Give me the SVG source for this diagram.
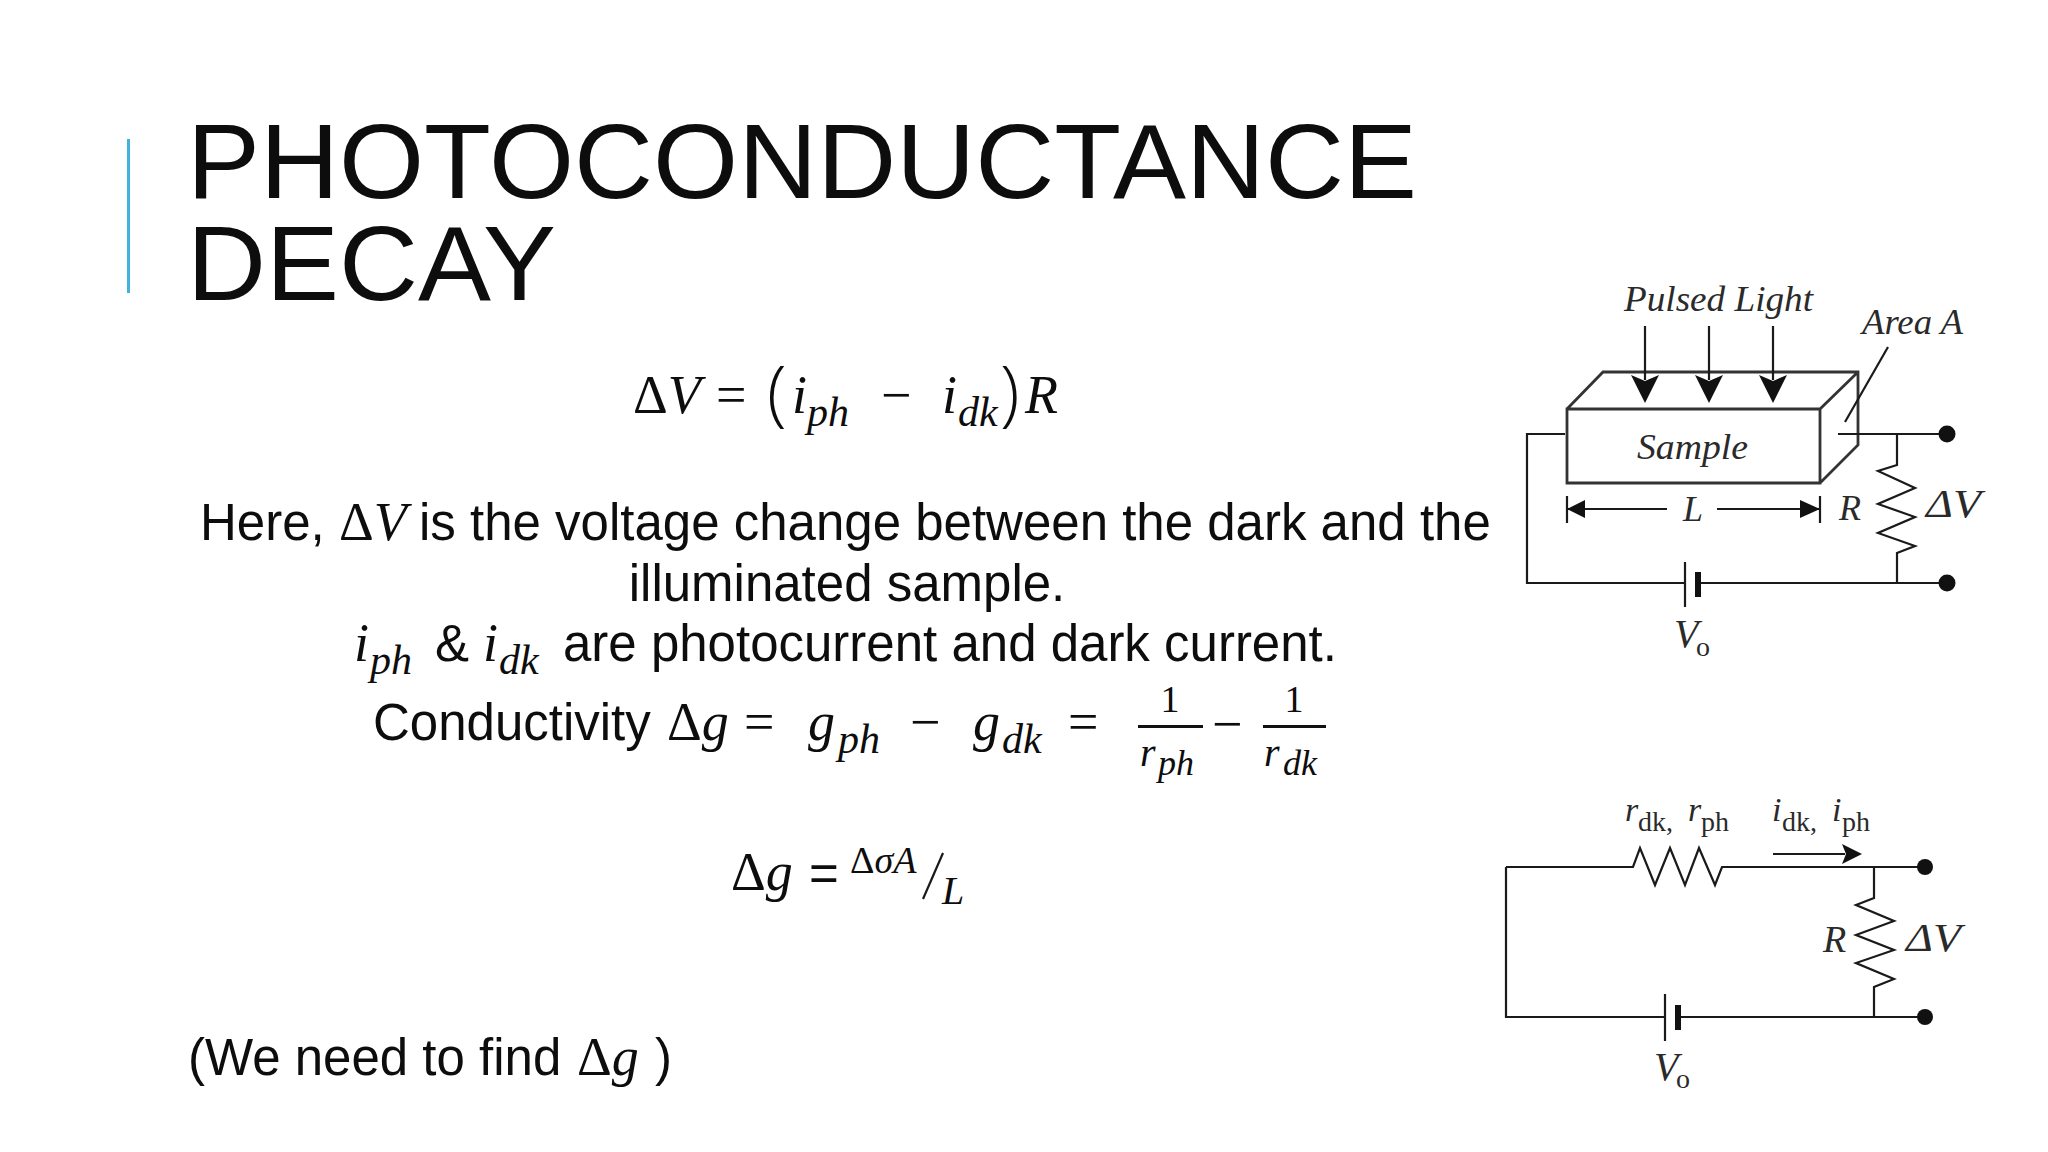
<svg xmlns="http://www.w3.org/2000/svg" width="2048" height="1152" viewBox="0 0 2048 1152">
<style>
.t{font-family:"Liberation Sans",Arial,sans-serif;fill:#0d0d0d}
.m{font-family:"Liberation Serif","Times New Roman",serif;fill:#0d0d0d}
.p{font-family:"Open Sans","Liberation Sans",sans-serif;font-weight:300;fill:#0d0d0d}
.i{font-style:italic}
.w{fill:none;stroke:#1a1a1a;stroke-width:2.2}
.b{fill:none;stroke:#333;stroke-width:2.8}
.k{fill:#111}
.c{font-family:"Liberation Serif","Times New Roman",serif;fill:#2a2a2a}
</style>
<rect width="2048" height="1152" fill="#fff"/>
<rect x="127" y="139" width="3" height="154" fill="#41b3dc"/>
<g id="title" class="t" font-size="106">
<text x="187" y="198" textLength="1230" lengthAdjust="spacingAndGlyphs">PHOTOCONDUCTANCE</text>
<text x="187" y="300" textLength="369" lengthAdjust="spacingAndGlyphs">DECAY</text>
</g>
<g id="equation-dv" font-size="54">
<text class="m" x="633" y="413">Δ<tspan class="i">V</tspan></text>
<text class="m" x="716" y="413">=</text>
<text class="p" x="767" y="418" font-size="72">(</text>
<text class="m i" x="792" y="413">i</text><text class="m i" x="807" y="426" font-size="42">ph</text>
<text class="m" x="881" y="413">−</text>
<text class="m i" x="942" y="413">i</text><text class="m i" x="958" y="426" font-size="42">dk</text>
<text class="p" x="1000" y="418" font-size="72">)</text>
<text class="m i" x="1025" y="413">R</text>
</g>
<g id="body" font-size="51">
<text class="t" x="200" y="540">Here,</text><text class="m" x="339" y="540" font-size="54">Δ<tspan class="i">V</tspan></text>
<text class="t" x="419" y="540">is the voltage change between the dark and the</text>
<text class="t" x="847" y="601" text-anchor="middle">illuminated sample.</text>
<text class="m i" x="354" y="661" font-size="54">i</text><text class="m i" x="370" y="674" font-size="42">ph</text>
<text class="t" x="435" y="661">&amp;</text>
<text class="m i" x="483" y="661" font-size="54">i</text><text class="m i" x="499" y="674" font-size="42">dk</text>
<text class="t" x="563" y="661">are photocurrent and dark current.</text>
</g>
<g id="equation-conductivity" font-size="54">
<text class="t" x="373" y="740" font-size="51">Conductivity</text>
<text class="m" x="667" y="740">Δ<tspan class="i">g</tspan></text>
<text class="m" x="744" y="740">=</text>
<text class="m i" x="808" y="740">g</text><text class="m i" x="838" y="753" font-size="42">ph</text>
<text class="m" x="910" y="740">−</text>
<text class="m i" x="973" y="740">g</text><text class="m i" x="1002" y="753" font-size="42">dk</text>
<text class="m" x="1068" y="740">=</text>
<rect class="k" x="1138" y="725" width="65" height="3"/>
<text class="m" x="1170" y="712" text-anchor="middle" font-size="38">1</text>
<text class="m i" x="1140" y="766" font-size="40">r</text><text class="m i" x="1158" y="775" font-size="36">ph</text>
<text class="m" x="1212" y="742" font-size="54">−</text>
<rect class="k" x="1263" y="725" width="63" height="3"/>
<text class="m" x="1294" y="712" text-anchor="middle" font-size="38">1</text>
<text class="m i" x="1264" y="766" font-size="40">r</text><text class="m i" x="1283" y="775" font-size="36">dk</text>
</g>
<g id="equation-dg" font-size="54">
<text class="m" x="731" y="890">Δ<tspan class="i">g</tspan></text>
<text class="t" x="809" y="891" font-size="51">=</text>
<text class="m" x="850" y="873" font-size="38">Δ<tspan class="i">σA</tspan></text>
<line class="w" x1="923" y1="899" x2="943" y2="853" stroke-width="2.5"/>
<text class="m i" x="942" y="904" font-size="40">L</text>
</g>
<g id="note" font-size="51">
<text class="t" x="188" y="1075">(We need to find</text>
<text class="m" x="577" y="1075" font-size="54">Δ<tspan class="i">g</tspan></text>
<text class="t" x="655" y="1075">)</text>
</g>
<g id="connectors-sample">
<path class="b" d="M1567 409H1820V483H1567ZM1567 409L1603 372H1858V445L1820 483M1820 409L1858 372"/>
<path class="w" d="M1645 326V380M1709 326V380M1773 326V380"/>
<path class="k" d="M1631 375L1645 403L1659 375L1645 381ZM1695 375L1709 403L1723 375L1709 381ZM1759 375L1773 403L1787 375L1773 381Z"/>
<path class="w" d="M1888 347L1845 422"/>
<path class="w" d="M1838 434H1947M1565 434H1527V583H1685M1685 562V607M1698 583H1947"/>
<rect class="k" x="1695" y="572" width="6" height="25"/>
<path class="w" d="M1897 434V465L1878 471L1915 488L1878 504L1915 517L1878 533L1915 546L1897 553V583"/>
<circle class="k" cx="1947" cy="434" r="8.5"/><circle class="k" cx="1947" cy="583" r="8.5"/>
<path class="w" d="M1567 496V523M1820 496V523M1567 509H1667M1717 509H1820"/>
<path class="k" d="M1567 509L1585 500V518ZM1820 509L1800 500V518Z"/>
</g>
<g id="labels-sample" font-size="36" class="c">
<text class="c i" x="1624" y="311" textLength="189" lengthAdjust="spacingAndGlyphs">Pulsed Light</text>
<text class="c i" x="1862" y="334" textLength="101" lengthAdjust="spacingAndGlyphs">Area A</text>
<text class="c i" x="1637" y="459" textLength="111" lengthAdjust="spacingAndGlyphs">Sample</text>
<text class="c i" x="1683" y="521">L</text>
<text class="c i" x="1839" y="520">R</text>
<text class="c i" x="1926" y="517" font-size="40" textLength="55" lengthAdjust="spacingAndGlyphs">ΔV</text>
<text class="c i" x="1674" y="647" font-size="40">V</text>
<text class="c" x="1696" y="656" font-size="28">o</text>
</g>
<g id="connectors-circuit">
<path class="w" d="M1506 867H1633L1640 848L1655 885L1670 848L1685 885L1699 848L1715 885L1722 867H1925M1506 867V1017H1665M1665 994V1041M1678 1017H1925"/>
<rect class="k" x="1675" y="1005" width="6" height="25"/>
<path class="w" d="M1874 867V898L1856 905L1894 921L1856 935L1894 950L1856 963L1894 979L1874 987V1017"/>
<circle class="k" cx="1925" cy="867" r="8"/><circle class="k" cx="1925" cy="1017" r="8"/>
<path class="w" d="M1773 854H1845"/>
<path class="k" d="M1842 844L1862 854L1842 864L1846 854Z"/>
</g>
<g id="labels-circuit" font-size="36" class="c">
<text class="c i" x="1625" y="821" font-size="34">r</text><text class="c" x="1638" y="831" font-size="28">dk,</text>
<text class="c i" x="1688" y="821" font-size="34">r</text><text class="c" x="1701" y="831" font-size="28">ph</text>
<text class="c i" x="1772" y="821" font-size="34">i</text><text class="c" x="1782" y="831" font-size="28">dk,</text>
<text class="c i" x="1832" y="821" font-size="34">i</text><text class="c" x="1842" y="831" font-size="28">ph</text>
<text class="c i" x="1823" y="952" font-size="38">R</text>
<text class="c i" x="1906" y="951" font-size="40" textLength="55" lengthAdjust="spacingAndGlyphs">ΔV</text>
<text class="c i" x="1654" y="1080" font-size="40">V</text>
<text class="c" x="1676" y="1088" font-size="28">o</text>
</g>
</svg>
